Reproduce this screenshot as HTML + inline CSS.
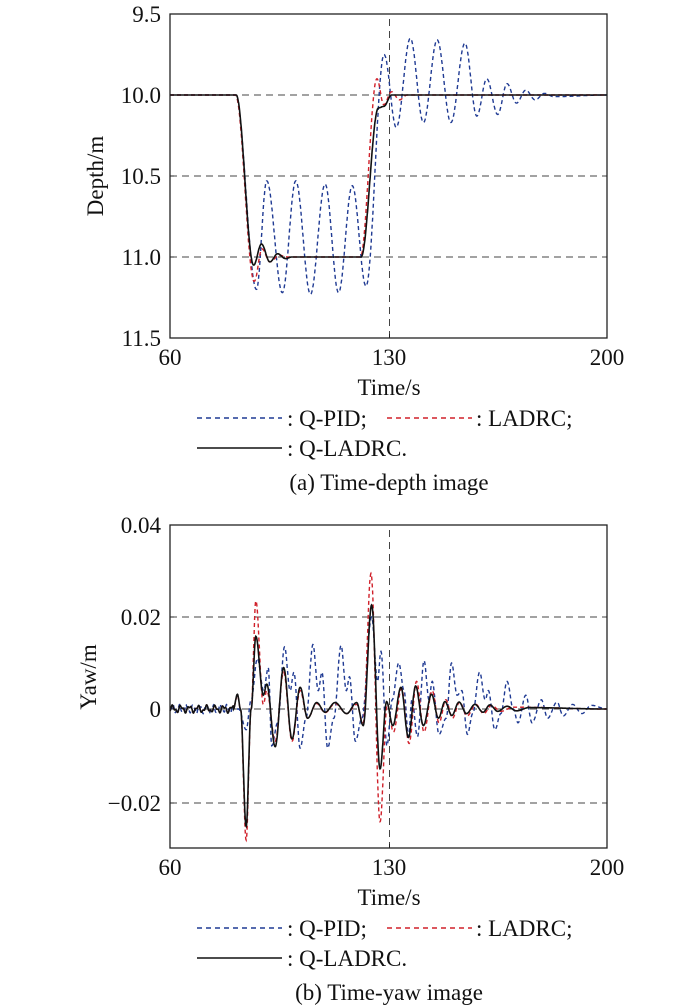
<!DOCTYPE html>
<html><head><meta charset="utf-8">
<style>
html,body{margin:0;padding:0;background:#fff;}
svg{display:block;font-family:"Liberation Serif",serif;}
</style></head>
<body>
<svg id="s" width="700" height="1007" viewBox="0 0 700 1007" xmlns="http://www.w3.org/2000/svg">
<rect width="700" height="1007" fill="#fff"/>
<g id="top" fill="none">
  <g stroke="#444" stroke-width="1" stroke-dasharray="7,5">
    <line x1="170" y1="95" x2="607" y2="95"/>
    <line x1="170" y1="176" x2="607" y2="176"/>
    <line x1="170" y1="257" x2="607" y2="257"/>
    <line x1="389.5" y1="19" x2="389.5" y2="338"/>
  </g>
  <g stroke="#222" stroke-width="1">
    <line x1="170" y1="95" x2="174" y2="95"/><line x1="170" y1="176" x2="174" y2="176"/><line x1="170" y1="257" x2="174" y2="257"/>
    <line x1="389.5" y1="338" x2="389.5" y2="334"/>
  </g>
</g>
<g id="bot" fill="none">
  <g stroke="#444" stroke-width="1" stroke-dasharray="7,5">
    <line x1="170" y1="617" x2="607" y2="617"/>
    <line x1="170" y1="709" x2="607" y2="709"/>
    <line x1="170" y1="803" x2="607" y2="803"/>
    <line x1="389.5" y1="530" x2="389.5" y2="848"/>
  </g>
  <g stroke="#222" stroke-width="1">
    <line x1="170" y1="617" x2="174" y2="617"/><line x1="170" y1="803" x2="174" y2="803"/>
    <line x1="389.5" y1="848" x2="389.5" y2="844"/>
  </g>
</g>
<g id="curves"></g>
<rect x="170" y="14" width="437" height="324" fill="none" stroke="#222" stroke-width="1.3"/>
<rect x="170" y="525" width="437" height="323" fill="none" stroke="#222" stroke-width="1.3"/>

<g font-size="23" fill="#111" text-anchor="end">
  <text x="161" y="22">9.5</text>
  <text x="161" y="103">10.0</text>
  <text x="161" y="184">10.5</text>
  <text x="161" y="265">11.0</text>
  <text x="161" y="346">11.5</text>
  <text x="161" y="533">0.04</text>
  <text x="161" y="625">0.02</text>
  <text x="161" y="717">0</text>
  <text x="161" y="811">−0.02</text>
</g>
<g font-size="23" fill="#111" text-anchor="middle">
  <text x="170" y="365">60</text><text x="389" y="365">130</text><text x="607" y="365">200</text>
  <text x="389" y="395">Time/s</text>
  <text x="389" y="490">(a) Time-depth image</text>
  <text x="170" y="875">60</text><text x="389" y="875">130</text><text x="607" y="875">200</text>
  <text x="389" y="905">Time/s</text>
  <text x="389" y="1000">(b) Time-yaw image</text>
  <text transform="translate(103,176) rotate(-90)">Depth/m</text>
  <text transform="translate(96,677) rotate(-90)">Yaw/m</text>
</g>
<g font-size="23" fill="#111">
  <line x1="197" y1="418" x2="282" y2="418" stroke="#1f3a93" stroke-width="1.5" stroke-dasharray="5,4"/>
  <text x="287" y="426">: Q-PID;</text>
  <line x1="387" y1="418" x2="472" y2="418" stroke="#d0202a" stroke-width="1.5" stroke-dasharray="5,4"/>
  <text x="476" y="426">: LADRC;</text>
  <line x1="197" y1="448" x2="282" y2="448" stroke="#111" stroke-width="1.5"/>
  <text x="287" y="456">: Q-LADRC.</text>

  <line x1="197" y1="928" x2="282" y2="928" stroke="#1f3a93" stroke-width="1.5" stroke-dasharray="5,4"/>
  <text x="287" y="936">: Q-PID;</text>
  <line x1="387" y1="928" x2="472" y2="928" stroke="#d0202a" stroke-width="1.5" stroke-dasharray="5,4"/>
  <text x="476" y="936">: LADRC;</text>
  <line x1="197" y1="958" x2="282" y2="958" stroke="#111" stroke-width="1.5"/>
  <text x="287" y="966">: Q-LADRC.</text>
</g>
</svg>
<script>
(function(){
function interp(k,t){
  for(var i=0;i<k.length-1;i++){
    if(t>=k[i][0]&&t<=k[i+1][0]){
      var a=k[i],b=k[i+1],u=(t-a[0])/(b[0]-a[0]);
      var w=(1-Math.cos(Math.PI*u))/2;return a[1]+(b[1]-a[1])*w;}
  }
  return k[k.length-1][1];
}
function path(k,fx,fy,noise){
  var d="";
  for(var t=60;t<=200;t+=0.1){
    var v=interp(k,t); if(noise&&t<80.3) v+=noise(t);
    d+=(d?"L":"M")+fx(t).toFixed(1)+","+fy(v).toFixed(1);
  }
  return d;
}
var ns="http://www.w3.org/2000/svg",g=document.getElementById("curves");
function add(d,col,dash,w){var p=document.createElementNS(ns,"path");p.setAttribute("d",d);p.setAttribute("fill","none");p.setAttribute("stroke",col);p.setAttribute("stroke-width",w);if(dash)p.setAttribute("stroke-dasharray",dash);g.appendChild(p);}
var fx=function(t){return 170+(t-60)*3.121;};
var fyA=function(v){return 95+(v-10)*162;};
var fyB=function(v){return 709-v*4600;};

var pidA=[[60,10],[81,10],[87.7,11.2],[91,10.53],[96,11.22],[100.3,10.53],[105,11.23],[109.7,10.55],[114,11.22],[118.4,10.56],[122.8,11.18],[128.6,9.75],[132.5,10.2],[137,9.65],[141.2,10.17],[145.6,9.66],[150,10.17],[154.5,9.68],[158.3,10.13],[161.5,9.9],[165,10.12],[168,9.93],[171,10.05],[174,9.97],[177,10.03],[180,9.99],[183,10.01],[200,10]];
var ladA=[[60,10],[81,10],[87,11.15],[89.5,10.95],[92,11.03],[95,10.99],[98,11.0],[121,11.0],[126.3,9.9],[128.5,10.06],[131,9.98],[133.5,10.03],[136,10.0],[200,10]];
var qA=[[60,10],[81.2,10],[86.8,11.05],[89.3,10.92],[92,11.03],[94.5,10.98],[97,11.01],[99,11.0],[121.2,11.0],[126.8,10.08],[128.5,10.07],[131,10.0],[200,10]];
add(path(pidA,fx,fyA),"#1f3a93","4,3",1.4);
add(path(ladA,fx,fyA),"#d0202a","4,3",1.4);
add(path(qA,fx,fyA),"#111",null,1.6);

var nz=function(t){return 0.0006*Math.sin(t*2.3)+0.0003*Math.sin(t*5.1);};
var qB=[[60,0],[80.3,0],[81.6,0.0032],[82.6,0],[84.4,-0.0255],[86,0.0],[87.5,0.0158],[89.9,0.003],[91,0.0054],[93.7,-0.0082],[96.4,0.009],[99.1,-0.0065],[101.7,0.0047],[104.1,-0.002],[107,0.0014],[109.7,-0.0007],[112.9,0.0014],[116.6,-0.001],[119.8,0.0014],[121.9,-0.0036],[124.6,0.0226],[127.3,-0.013],[129.4,0.0016],[131.4,-0.0036],[134,0.0047],[136.4,-0.0062],[138.7,0.005],[141.2,-0.0036],[143.8,0.0032],[146,-0.002],[148.1,0.0016],[150.3,-0.0014],[152.6,0.0015],[155,-0.001],[157.7,0.001],[160.3,-0.0007],[162.5,0.0009],[165,-0.0005],[168,0.0006],[171,-0.0004],[175,0.0003],[200,0]];
var lB=[[60,0],[80.3,0],[81.6,0.003],[82.6,0],[84.4,-0.0285],[86,0.0],[87.5,0.0235],[89.9,0.001],[91,0.004],[93.7,-0.007],[96.4,0.008],[99.1,-0.007],[101.7,0.004],[104.1,-0.002],[107,0.0012],[109.7,-0.0008],[112.9,0.0012],[116.6,-0.001],[119.8,0.001],[121.9,-0.003],[124.4,0.0295],[127.3,-0.0245],[129.6,0.001],[131.6,-0.005],[134.2,0.0045],[136.6,-0.0075],[139,0.006],[141.4,-0.005],[144,0.004],[146.2,-0.003],[148.4,0.002],[150.5,-0.002],[152.8,0.0015],[155.2,-0.0015],[158,0.001],[160.5,-0.001],[163,0.0008],[166,-0.0005],[170,0.0004],[200,0]];
var pB=[[60,0],[80.5,0],[82,0],[84.4,-0.0045],[86,0.002],[88,0.011],[90,0.004],[91.5,0.009],[92.6,-0.008],[94.5,-0.003],[96.7,0.0135],[98.5,0.004],[99.7,0.008],[101.7,-0.0085],[103.6,-0.002],[105.8,0.014],[107.5,0.004],[108.7,0.008],[110.5,-0.0085],[112.5,-0.002],[114.8,0.0138],[116.5,0.004],[117.5,0.007],[119.4,-0.007],[121.5,-0.002],[124.6,0.02],[126.5,0.006],[127.6,0.0125],[129.5,-0.008],[131.2,0.002],[133.3,0.01],[135,0.004],[136.4,-0.006],[137.5,0.002],[139.3,-0.006],[141.4,0.0105],[143,0.002],[144,0.006],[146.2,-0.0055],[148.5,-0.002],[150.2,0.01],[152,0.003],[153.5,0.004],[155.3,-0.0055],[157,-0.001],[159.2,0.008],[161,0.002],[162,0.004],[164.1,-0.0045],[166,-0.001],[168,0.006],[170,0],[171.5,-0.003],[174,0.003],[176,-0.003],[179,0.002],[181,-0.002],[184,0.0015],[186,-0.0015],[189,0.001],[192,-0.001],[195,0.0008],[200,0]];
add(path(pB,fx,fyB,function(t){return 0.0007*Math.sin(t*2.9+1)+0.0003*Math.sin(t*6.3);}),"#1f3a93","4,3",1.4);
add(path(lB,fx,fyB,nz),"#d0202a","4,3",1.4);
add(path(qB,fx,fyB,nz),"#111",null,1.6);
})();
</script>
</body></html>
